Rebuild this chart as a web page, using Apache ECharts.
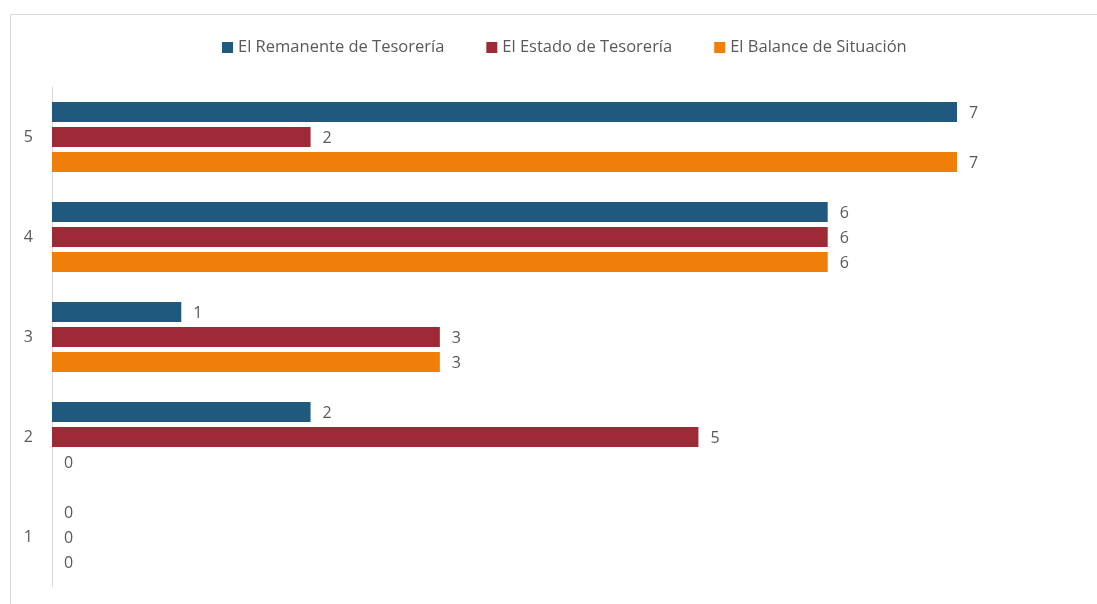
<!DOCTYPE html>
<html>
<head>
<meta charset="utf-8">
<script src="https://cdn.jsdelivr.net/npm/echarts@6/dist/echarts.min.js"></script>
<style>
  html, body { margin: 0; padding: 0; background: #ffffff; }
  #chart { width: 1097px; height: 604px; }
</style>
</head>
<body>
<div id="chart"></div>
<script>
// Categories, bottom to top on the vertical axis
const categories = ['1', '2', '3', '4', '5'];

// Series values per category
const remanente = [0, 2, 1, 6, 7];
const estado = [0, 5, 3, 6, 2];
const balance = [0, 0, 3, 6, 7];

const seriesNames = ['El Remanente de Tesorería', 'El Estado de Tesorería', 'El Balance de Situación'];
const seriesColors = ['#1f5a7e', '#9e2a38', '#f07f09'];
const seriesValues = [remanente, estado, balance];

const textColor = '#595959';
const fontFamily = 'Open Sans, Noto Sans, sans-serif';

const chart = echarts.init(document.getElementById('chart'), null, { renderer: 'canvas' });

chart.setOption({
  animation: false,
  backgroundColor: '#ffffff',
  graphic: [{
    type: 'rect',
    shape: { x: 10.5, y: 14.5, width: 1200, height: 700 },
    style: { fill: 'none', stroke: '#d9d9d9', lineWidth: 1 },
    silent: true
  }],
  legend: {
    data: seriesNames,
    top: 34,
    left: 217,
    itemWidth: 11,
    itemHeight: 11,
    itemGap: 42,
    icon: 'rect',
    textStyle: { color: textColor, fontSize: 16.5, fontFamily: fontFamily }
  },
  grid: { left: 52, right: 140, top: 87, height: 500, containLabel: false },
  xAxis: {
    type: 'value',
    min: 0,
    max: 7,
    show: false
  },
  yAxis: {
    type: 'category',
    data: categories,
    axisLine: { show: true, lineStyle: { color: '#d9d9d9', width: 1 } },
    axisTick: { show: false },
    axisLabel: { color: textColor, fontSize: 16, fontFamily: fontFamily, margin: 19 }
  },
  series: seriesNames.map((name, i) => ({
    name: name,
    type: 'bar',
    data: seriesValues[i],
    barWidth: 20,
    barGap: '25%',
    barCategoryGap: '30%',
    itemStyle: { color: seriesColors[i] },
    label: {
      show: true,
      position: 'right',
      distance: 12,
      color: textColor,
      fontSize: 16,
      fontFamily: fontFamily,
      offset: [0, 1]
    }
  }))
});
</script>
</body>
</html>
